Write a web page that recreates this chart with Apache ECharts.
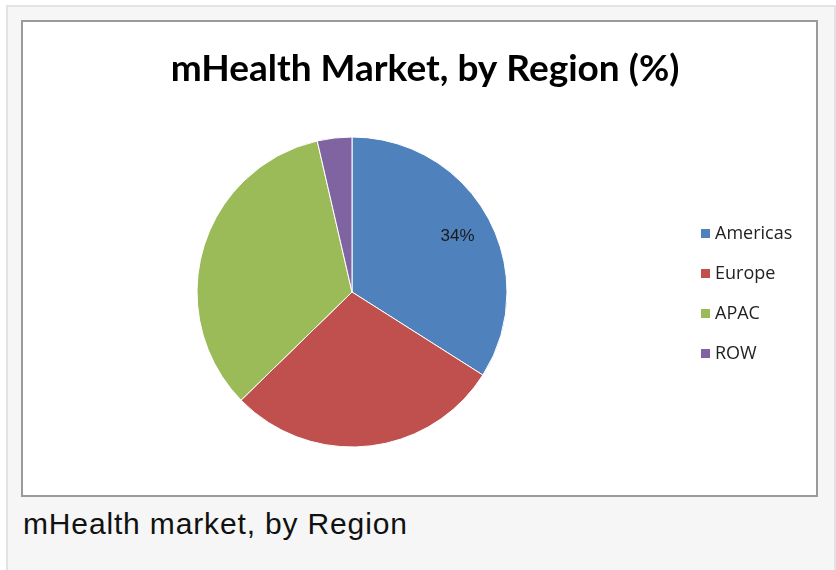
<!DOCTYPE html>
<html>
<head>
<meta charset="utf-8">
<script src="https://cdn.jsdelivr.net/npm/echarts@6/dist/echarts.min.js"></script>
<style>
    body { margin: 0; background: #fff; width: 836px; height: 570px; overflow: hidden; position: relative; }
    #outer { position: absolute; left: 6px; top: 5px; width: 826px; height: 570px;
        border: 2px solid #e3e3e3; border-bottom: none; background: #f6f6f6; }
    #frame { position: absolute; left: 21px; top: 20px; width: 797px; height: 477px;
        box-sizing: border-box; border: 2px solid #9a9a9a; background: #fff; }
    #chart { position: absolute; left: 23px; top: 22px; width: 793px; height: 473px; }
    #caption { position: absolute; left: 23px; top: 507px; font-family: "Liberation Sans", Arial, sans-serif;
        font-size: 30px; letter-spacing: 0.85px; color: #111; white-space: nowrap; }
</style>
</head>
<body>
<div id="outer"></div>
<div id="frame"></div>
<div id="chart"></div>
<div id="caption">mHealth market, by Region</div>
<script>
    // Data
    const regions = ['Americas', 'Europe', 'APAC', 'ROW'];
    const shares = [34, 28.7, 33.7, 3.6];
    const colors = ['#4f81bd', '#c0504d', '#9bbb59', '#8064a2'];
    const labelled = ['Americas'];

    const chart = echarts.init(document.getElementById('chart'));

    const data = regions.map((name, i) => ({
        name: name,
        value: shares[i],
        itemStyle: { color: colors[i] },
        label: labelled.indexOf(name) >= 0 ? { show: true } : { show: false }
    }));

    chart.setOption({
        animation: false,
        title: {
            text: 'mHealth Market, by Region (%)',
            left: 397,
            textAlign: 'center',
            top: 24,
            textStyle: {
                fontFamily: 'Lato',
                fontWeight: 'bold',
                fontSize: 37,
                color: '#000'
            }
        },
        legend: {
            orient: 'vertical',
            left: 671,
            top: 197,
            icon: 'rect',
            itemWidth: 11,
            itemHeight: 11,
            itemGap: 21,
            data: regions,
            textStyle: {
                fontFamily: 'Open Sans',
                fontSize: 18,
                lineHeight: 19,
                color: '#222',
                padding: [0, 0, 0, -1]
            }
        },
        series: [{
            type: 'pie',
            center: [329, 270],
            radius: 155,
            startAngle: 90,
            clockwise: true,
            label: {
                position: 'inside',
                offset: [35, -17],
                formatter: p => Math.round(p.value) + '%',
                fontFamily: 'Liberation Sans',
                fontSize: 17,
                color: '#1a1a1a'
            },
            labelLine: { show: false },
            itemStyle: { borderColor: '#fff', borderWidth: 1 },
            emphasis: { disabled: true },
            data: data
        }]
    });
</script>
</body>
</html>
